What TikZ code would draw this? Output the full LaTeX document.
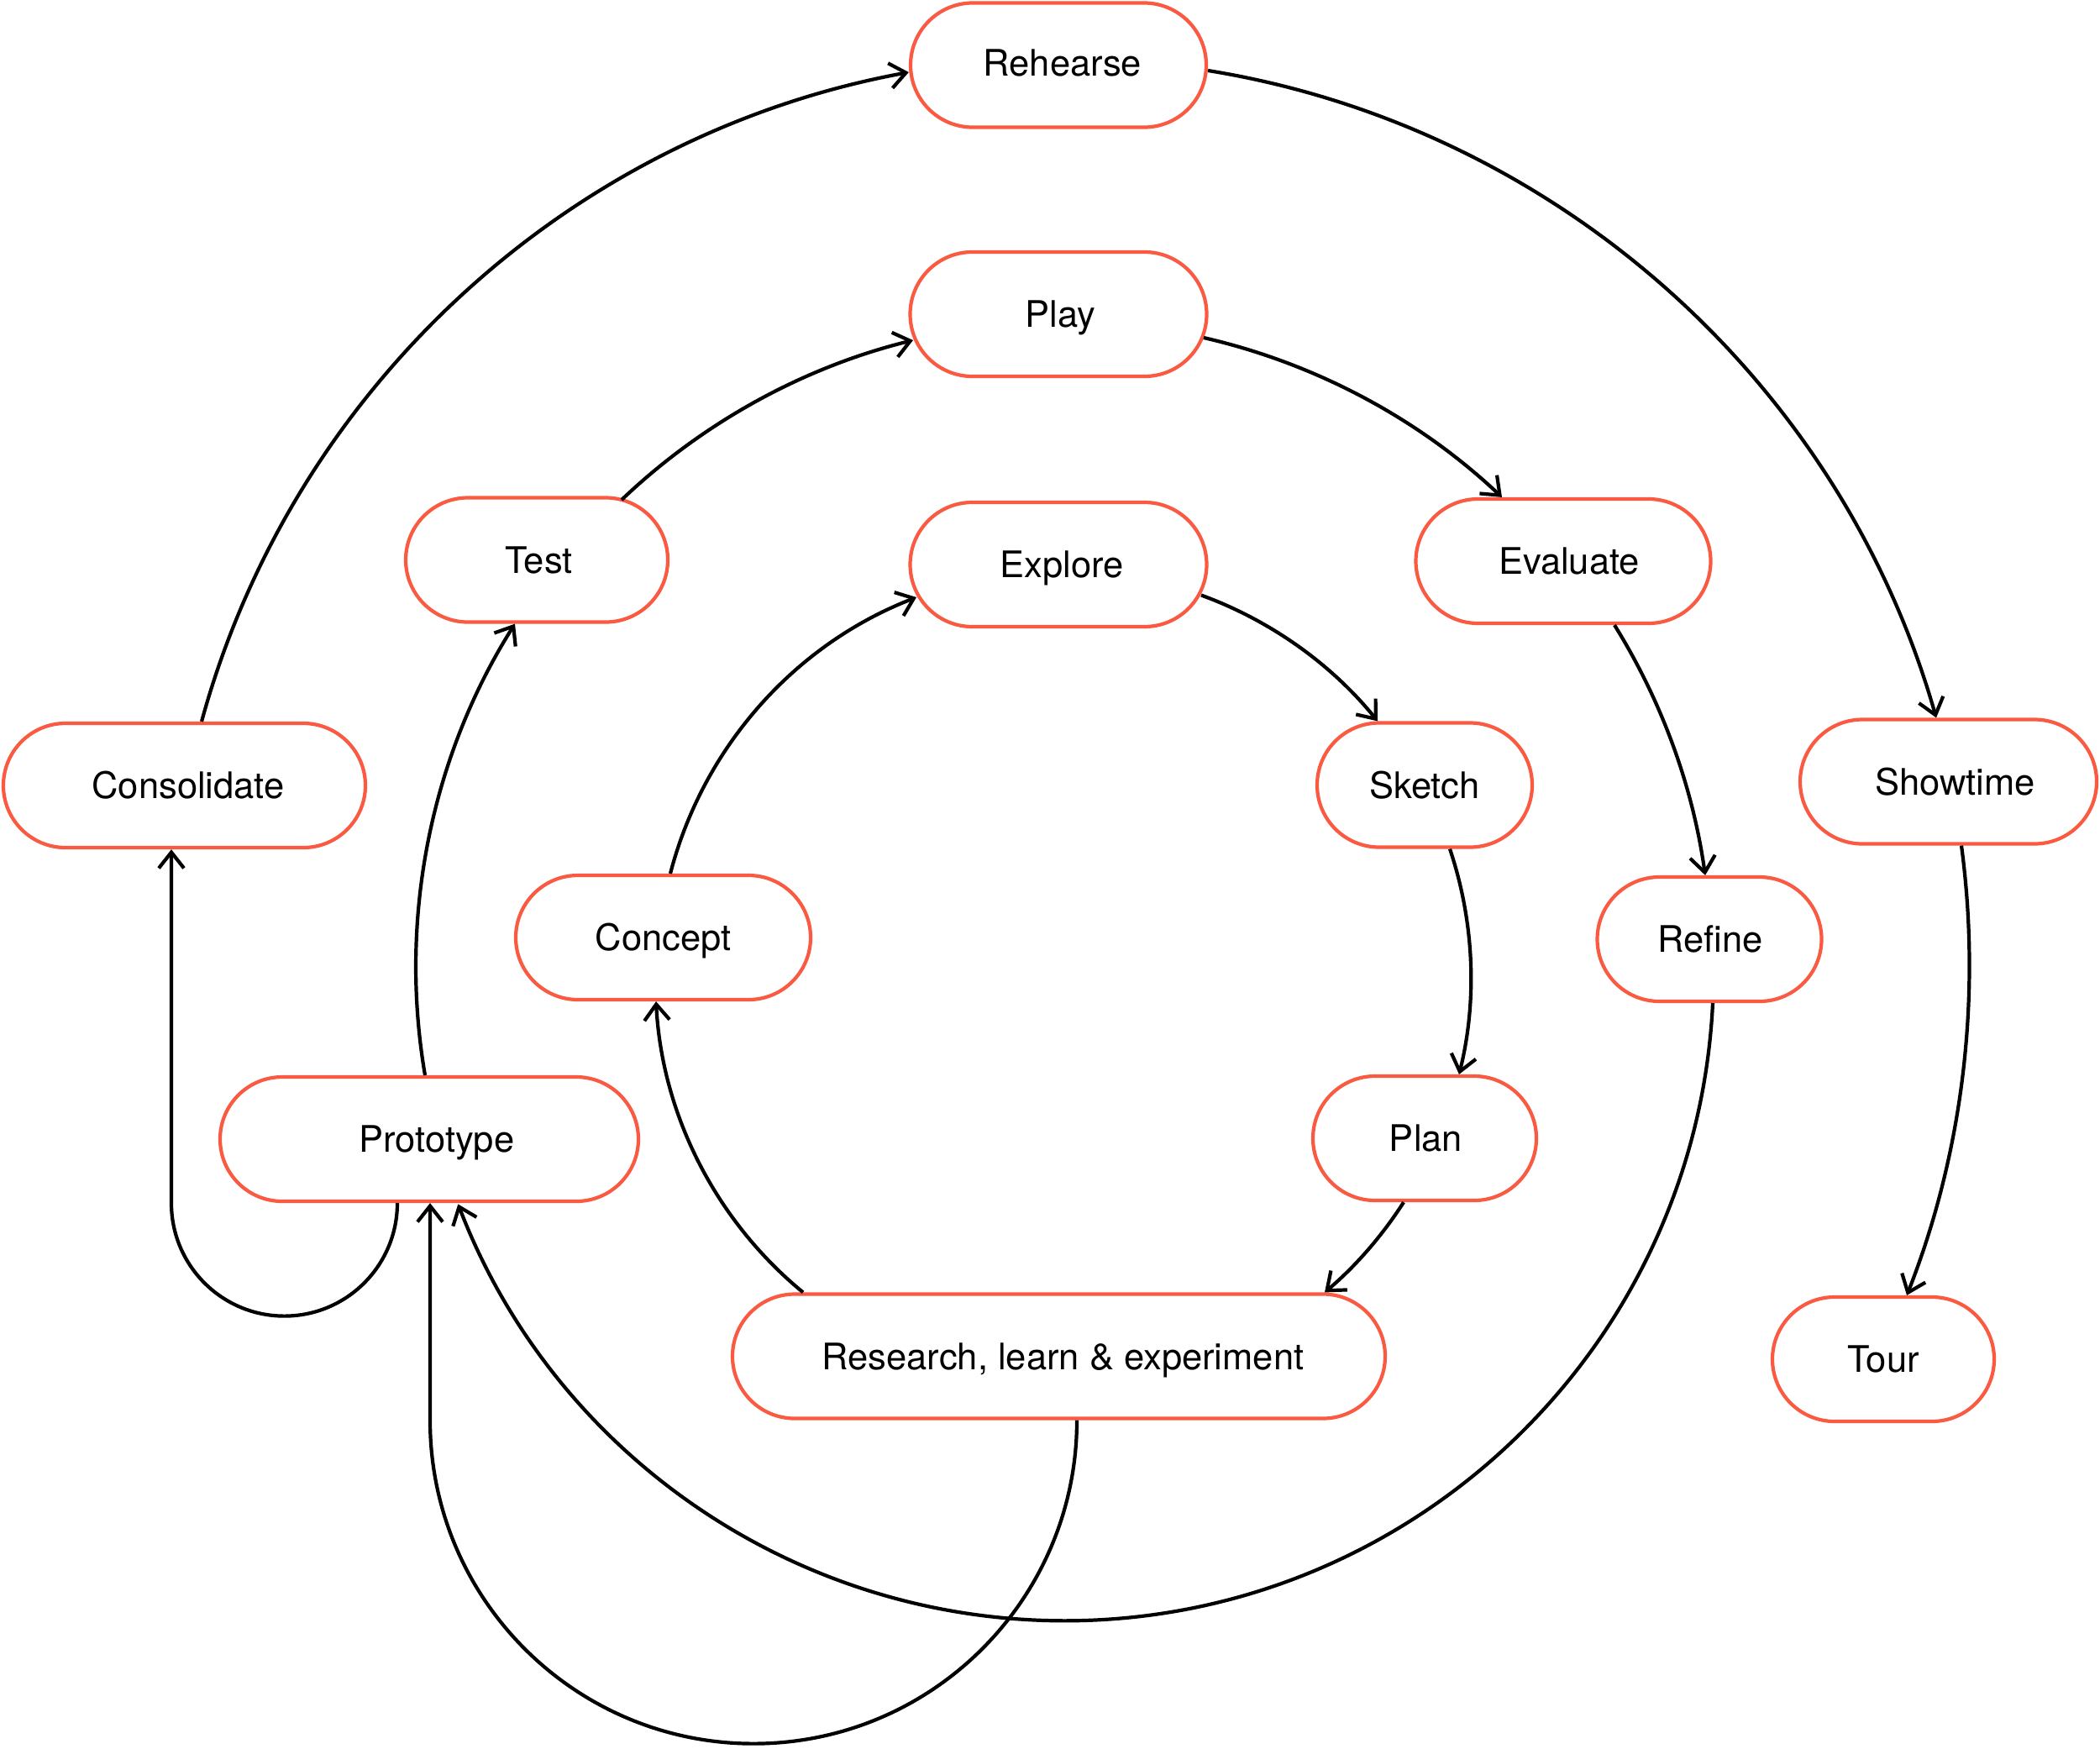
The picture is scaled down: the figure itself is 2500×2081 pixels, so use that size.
\documentclass[tikz,border=0pt]{standalone}
\usepackage{fontspec}
\setmainfont{TeX Gyre Heros}
\usetikzlibrary{arrows.meta}
\definecolor{boxred}{RGB}{249,90,65}
\tikzset{
  stagebox/.style={draw=boxred, line width=4.2pt, fill=white, rounded corners=74pt,
    minimum height=148pt, inner sep=0pt, text height=31pt, text depth=0pt,
    font=\fontsize{43.5pt}{52pt}\selectfont},
  tshift/.style={execute at begin node={\hspace*{#1}}},
  conn/.style={draw=black, line width=4.2pt, -{Straight Barb[length=19pt,width=30pt]}}
}
\begin{document}
\begin{tikzpicture}[x=1pt,y=1pt]
\fill[white] (0,0) rectangle (2500,-2081);
\useasboundingbox (0,0) rectangle (2500,-2081);

\node[stagebox, tshift=10pt, minimum width=352pt, text height=25pt] (rehearse) at (1260,-77.5) {Rehearse};
\node[stagebox, tshift=5pt, minimum width=353pt] (play) at (1260,-374) {Play};
\node[stagebox, tshift=8pt, minimum width=353pt] (explore) at (1260,-672) {Explore};
\node[stagebox, tshift=5pt, minimum width=312pt] (test) at (639,-666.5) {Test};
\node[stagebox, tshift=14pt, minimum width=351pt] (eval) at (1861,-668) {Evaluate};
\node[stagebox, tshift=9pt, minimum width=431pt] (cons) at (219.5,-935) {Consolidate};
\node[stagebox, minimum width=256pt] (sketch) at (1696,-934.5) {Sketch};
\node[stagebox, tshift=16pt, minimum width=353pt] (show) at (2319.5,-930.5) {Showtime};
\node[stagebox, minimum width=351pt] (concept) at (789.5,-1116) {Concept};
\node[stagebox, tshift=2pt, minimum width=267pt] (refine) at (2035,-1118) {Refine};
\node[stagebox, tshift=18pt, minimum width=498pt] (proto) at (511,-1356) {Prototype};
\node[stagebox, tshift=3pt, minimum width=266pt] (plan) at (1696,-1355) {Plan};
\node[stagebox, tshift=10pt, minimum width=777pt] (research) at (1260.5,-1614.5) {Research, learn \& experiment};
\node[stagebox, minimum width=264pt] (tour) at (2242,-1618) {Tour};

% outer ring
\draw[conn] ([xshift=20.5pt]cons.north) to[bend left=32.15, looseness=0.922] ([yshift=-8.5pt]rehearse.west);
\draw[conn] ([yshift=-6.5pt]rehearse.east) to[bend left=32.45, looseness=0.923] ([xshift=-14.5pt]show.north);
\draw[conn] ([xshift=15.5pt]show.south) to[bend left=14.57, looseness=0.865] ([xshift=28pt]tour.north);

% middle ring
\draw[conn] ([shift={(101pt,71.5pt)}]test.center) to[bend left=14.9, looseness=0.866] ([shift={(-173pt,-31pt)}]play.center);
\draw[conn] ([shift={(173pt,-28pt)}]play.center) to[bend left=15.2, looseness=0.867] ([xshift=-73pt]eval.north);
\draw[conn] ([xshift=61pt]eval.south) to[bend left=11.94, looseness=0.861] ([xshift=-5pt]refine.north);
\draw[conn] ([xshift=4pt]refine.south) arc[start angle=-2.8, end angle=-159, radius=773];
\draw[conn] ([xshift=-5pt]proto.north) to[bend left=21, looseness=0.881] ([xshift=-26pt]test.south);

% inner ring
\draw[conn] ([shift={(170pt,-36.5pt)}]explore.center) to[bend left=15.5, looseness=0.867] ([xshift=-56pt]sketch.north);
\draw[conn] ([xshift=30pt]sketch.south) to[bend left=16.25, looseness=0.869] ([xshift=41pt]plan.north);
\draw[conn] ([xshift=-25pt]plan.south) to[bend left=8.6, looseness=0.856] ([xshift=316.5pt]research.north);
\draw[conn] ([xshift=-304.5pt]research.north) to[bend left=23.8, looseness=0.889] ([xshift=-8.5pt]concept.south);
\draw[conn] ([xshift=8.5pt]concept.north) to[bend left=27.15, looseness=0.901] ([shift={(-169pt,-39pt)}]explore.center);

% loops
\draw[conn] ([xshift=21.5pt]research.south) arc[start angle=0, end angle=-180, radius=385] -- ([xshift=1pt]proto.south);
\draw[conn] ([xshift=-38pt]proto.south) arc[start angle=0, end angle=-180, radius=134.5] -- ([xshift=-15.5pt]cons.south);
\end{tikzpicture}
\end{document}
